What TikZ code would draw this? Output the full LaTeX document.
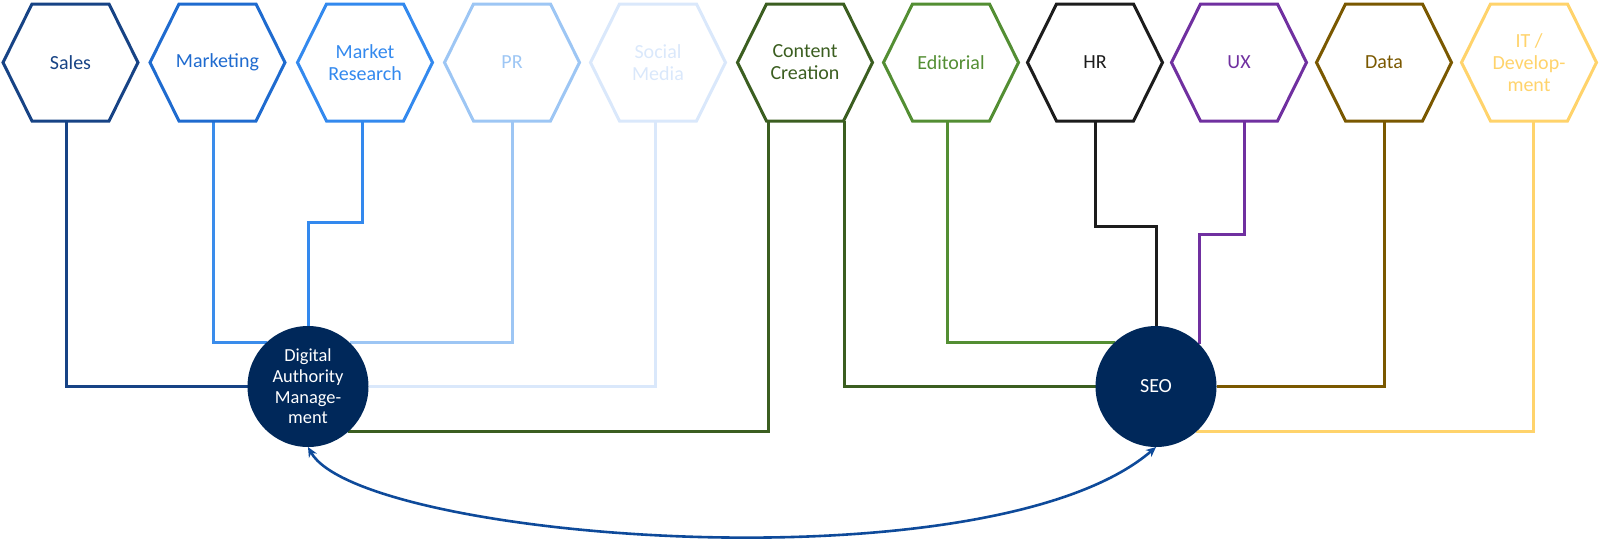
\documentclass[tikz,border=0pt]{standalone}
\usepackage{fontspec}
\setmainfont{Carlito}
\usetikzlibrary{arrows.meta,calc,backgrounds}
\definecolor{cSales}{HTML}{174385}
\definecolor{cMkt}{HTML}{1F6BCF}
\definecolor{cMktL}{HTML}{3A8CEB}
\definecolor{cMR}{HTML}{3389EE}
\definecolor{cPR}{HTML}{9DC6F4}
\definecolor{cSoc}{HTML}{DAE8FB}
\definecolor{cCC}{HTML}{3B5E20}
\definecolor{cEd}{HTML}{538E33}
\definecolor{cHR}{HTML}{1C1C1C}
\definecolor{cUX}{HTML}{7030A0}
\definecolor{cData}{HTML}{7A5800}
\definecolor{cIT}{HTML}{FFD36B}
\definecolor{hubblue}{HTML}{00285A}
\definecolor{arrowblue}{HTML}{0E4A9A}
\newcommand{\hexoutline}[2]{\draw[hexline=#2] (#1.west) -- ([xshift=14.5pt]#1.north west) -- ([xshift=-14.5pt]#1.north east) -- (#1.east) -- ([xshift=-14.5pt]#1.south east) -- ([xshift=14.5pt]#1.south west) -- cycle;}
\begin{document}
\begin{tikzpicture}[x=0.5pt,y=-0.5pt,
  hexnode/.style={minimum width=67.5pt,minimum height=58.5pt,inner sep=0pt,outer sep=0pt,align=center,font=\fontsize{10}{11}\selectfont,text=#1},
  hexline/.style={draw=#1,line width=1.5pt,line join=miter},
  link/.style={draw=#1,line width=1.5pt},
  hub/.style={circle,fill=hubblue,minimum size=60.5pt,inner sep=0pt,outer sep=0pt,text=white,align=center},
  bothway/.style={draw=arrowblue,line width=1.3pt,{Stealth[length=5pt,width=4.5pt]}-{Stealth[length=5pt,width=4.5pt]}}
]
\useasboundingbox (0,0) rectangle (1600,542);

% hexagons
\node[hexnode=cSales] (sales) at (70.5,62.5) {Sales};
\node[hexnode=cMkt]   (mkt)   at (217.5,62.5) {Marketing};
\node[hexnode=cMR]    (mr)    at (365,62.5) {Market\\Research};
\node[hexnode=cPR]    (pr)    at (512,62.5) {PR};
\node[hexnode=cSoc]   (soc)   at (658,62.5) {Social\\Media};
\node[hexnode=cCC]    (cc)    at (805,62.5) {Content\\Creation};
\node[hexnode=cEd]    (ed)    at (951,62.5) {Editorial};
\node[hexnode=cHR]    (hr)    at (1095,62.5) {HR};
\node[hexnode=cUX]    (ux)    at (1239,62.5) {UX};
\node[hexnode=cData]  (data)  at (1384,62.5) {Data};
\node[hexnode=cIT]    (it)    at (1529,62.5) {IT /\\Develop-\\ment};
\hexoutline{sales}{cSales}
\hexoutline{mkt}{cMkt}
\hexoutline{mr}{cMR}
\hexoutline{pr}{cPR}
\hexoutline{soc}{cSoc}
\hexoutline{cc}{cCC}
\hexoutline{ed}{cEd}
\hexoutline{hr}{cHR}
\hexoutline{ux}{cUX}
\hexoutline{data}{cData}
\hexoutline{it}{cIT}

% hubs
\node[hub,font=\fontsize{9.2}{10.3}\selectfont] (dam) at (308,386.5) {Digital\\Authority\\Manage-\\ment};
\node[hub,font=\fontsize{10}{11}\selectfont] (seo) at (1156,386.5) {SEO};

% connectors, behind the hubs
\begin{scope}[on background layer]
\draw[link=cSales] ([xshift=-2.25pt]sales.south) |- (dam.west);
\draw[link=cMktL] ([xshift=-2.25pt]mkt.south) |- (dam.133.3);
\draw[link=cMR] ([xshift=-1.5pt]mr.south) -- ++(0,101) -| (dam.north);
\draw[link=cPR] (pr.south) |- (dam.46.7);
\draw[link=cSoc] ([xshift=-1.5pt]soc.south) |- (dam.east);
\draw[link=cCC] ([xshift=-18.5pt]cc.south) |- (dam.312.6);
\draw[link=cCC] ([xshift=19.5pt]cc.south) |- (seo.west);
\draw[link=cEd] ([xshift=-2pt]ed.south) |- (seo.133.3);
\draw[link=cHR] (hr.south) -- ++(0,105) -| (seo.north);
\draw[link=cUX] ([xshift=2.5pt]ux.south) -- ++(0,113) -| (seo.44.7);
\draw[link=cData] (data.south) |- (seo.east);
\draw[link=cIT] ([xshift=2pt]it.south) |- (seo.312.6);
\end{scope}

% two-way arrow
\draw[bothway] (dam.south) .. controls ($(dam.south)+(52,93)$) and ($(seo.south)+(-166,143)$) .. (seo.south);
\end{tikzpicture}
\end{document}
